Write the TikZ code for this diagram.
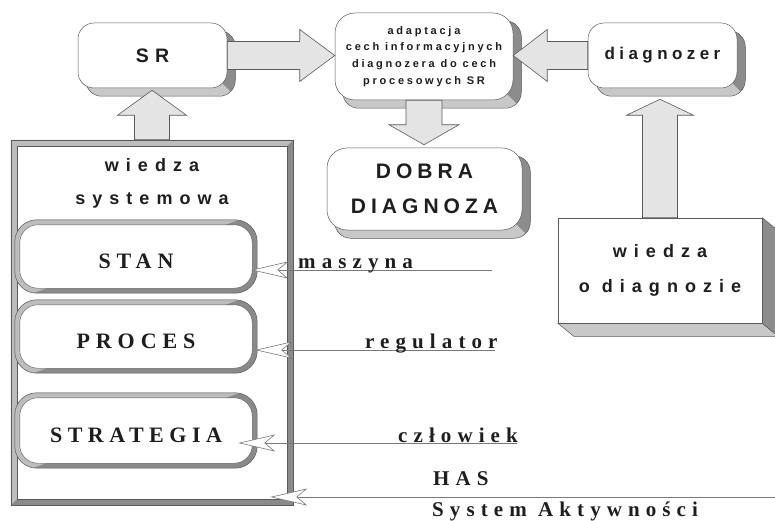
\documentclass[tikz,border=0pt]{standalone}
\usepackage{fontspec}
\setmainfont{Liberation Serif}
\setsansfont{Liberation Sans}
\usetikzlibrary{calc,arrows.meta,backgrounds}

\definecolor{edge}{HTML}{5A5A5A}
\definecolor{ink}{HTML}{1E1E1E}
\definecolor{arrowfill}{HTML}{E4E4E4}
\definecolor{shlight}{HTML}{C8C8C8}
\definecolor{shdark}{HTML}{8C8C8C}
\definecolor{bvlight}{HTML}{BDBDBD}
\definecolor{bvdark}{HTML}{8A8A8A}
\definecolor{linegray}{HTML}{7A7A7A}

% spaced bold sans / serif: size, baselineskip, letter spacing
\newcommand\sansls[3]{\sffamily\bfseries\fontsize{#1}{#2}\selectfont\addfontfeatures{LetterSpace=#3}}
\newcommand\serifls[3]{\rmfamily\bfseries\fontsize{#1}{#2}\selectfont\addfontfeatures{LetterSpace=#3}}

% block arrow: shaft half-width, head half-width, head length, start, tip
\newcommand\blockarrow[5]{%
  \filldraw[fat] let \p1=#4, \p2=#5, \n1={atan2(\y2-\y1,\x2-\x1)} in
    ($(\p1)+(\n1+90:#1pt)$) -- ($(\p2)+(\n1+180:#3pt)+(\n1+90:#1pt)$)
    -- ($(\p2)+(\n1+180:#3pt)+(\n1+90:#2pt)$) -- (\p2)
    -- ($(\p2)+(\n1+180:#3pt)+(\n1-90:#2pt)$) -- ($(\p2)+(\n1+180:#3pt)+(\n1-90:#1pt)$)
    -- ($(\p1)+(\n1-90:#1pt)$) -- cycle;}

% two-tone extruded shadow behind a rounded card
\newcommand\dropshadow[1]{%
  \begin{scope}[on background layer]
    \fill[shlight, rounded corners=16pt] ($(#1.south west)+(8,8)$) rectangle ($(#1.north east)+(8,8)$);
    \begin{scope}
      \clip ($(#1.south east)+(-30,-30)$) -- ($(#1.south east)+(30,30)$)
        -- ($(#1.north east)+(30,-30)$) -- ($(#1.north east)+(-30,-30)$) -- cycle;
      \fill[shdark, rounded corners=16pt] ($(#1.south west)+(8,8)$) rectangle ($(#1.north east)+(8,8)$);
    \end{scope}
    \draw[edge, line width=0.5pt, rounded corners=16pt] ($(#1.south west)+(8,8)$) rectangle ($(#1.north east)+(8,8)$);
  \end{scope}}

% bevelled rounded frame of the inner boxes
\newcommand\bevelround[1]{%
  \begin{scope}[on background layer]
    \fill[bvdark, rounded corners=22pt] (#1.south west) rectangle (#1.north east);
    \begin{scope}
      \clip ($(#1.south west)+(-10,10)$) -- ($(#1.north west)+(-10,-10)$) -- ($(#1.north east)+(10,-10)$) -- cycle;
      \fill[bvlight, rounded corners=22pt] (#1.south west) rectangle (#1.north east);
    \end{scope}
    \fill[white, rounded corners=18pt] ($(#1.south west)+(5,-5)$) rectangle ($(#1.north east)+(-5,5)$);
    \draw[edge, line width=0.5pt, rounded corners=22pt] (#1.south west) rectangle (#1.north east);
    \draw[edge, line width=0.4pt, rounded corners=18pt] ($(#1.south west)+(5,-5)$) rectangle ($(#1.north east)+(-5,5)$);
  \end{scope}}

\tikzset{
  card/.style={rectangle, rounded corners=16pt, draw=edge, line width=0.5pt, fill=white,
    inner sep=0pt, text=ink, align=center},
  bevel/.style={rectangle, inner sep=0pt, minimum width=242pt, text=ink,
    text height=23pt, text depth=0pt},
  fat/.style={fill=arrowfill, draw=edge, line width=0.6pt, line join=miter},
  feed/.style={draw=linegray, line width=0.6pt,
    -{Stealth[length=37pt,width=17pt,inset=10pt,fill=white]}},
  tag/.style={anchor=base west, inner sep=0pt, text=ink, font=\serifls{21}{21}{29}},
}

\begin{document}
\begin{tikzpicture}[x=1pt,y=-1pt]
\useasboundingbox (0,0) rectangle (775,521);

% cards with shadows
\node[card, minimum width=149pt, minimum height=65pt, font=\sansls{19.5}{22}{32}] (sr) at (152.5,55.5) {SR};
\node[card, minimum width=178pt, minimum height=87pt, rounded corners=20pt, font=\sansls{11}{16.7}{25}] (ad) at (424,56.5)
  {adaptacja\\cech informacyjnych\\diagnozera do cech\\procesowych SR};
\node[card, minimum width=195pt, minimum height=82pt, rounded corners=20pt, font=\sansls{21}{35}{24}] (dd) at (424.5,189)
  {DOBRA\\DIAGNOZA};
\node[card, minimum width=149pt, minimum height=65pt, font=\sansls{17}{20}{26}] (dg) at (662.5,55.5) {diagnozer};
\dropshadow{sr}
\dropshadow{ad}
\dropshadow{dd}
\dropshadow{dg}

% knowledge block on the right, extruded
\node[rectangle, draw=edge, line width=0.5pt, fill=white, minimum width=204pt, minimum height=105pt,
  align=center, text=ink, font=\sansls{18}{35}{39}] (wd) at (660,270.5) {wiedza\\o diagnozie};
\begin{scope}[on background layer]
  \filldraw[fill=shlight, draw=edge, line width=0.5pt] (wd.south west) -- ($(wd.south west)+(16,13)$)
    -- ($(wd.south east)+(16,13)$) -- (wd.south east) -- cycle;
  \filldraw[fill=shdark, draw=edge, line width=0.5pt] (wd.north east) -- ($(wd.north east)+(16,13)$)
    -- ($(wd.south east)+(16,13)$) -- (wd.south east) -- cycle;
\end{scope}

% system knowledge frame
\node[rectangle, minimum width=282pt, minimum height=365pt, inner sep=0pt] (ws) at (152,322.5) {};
\begin{scope}[on background layer]
  \fill[bvdark] (ws.south west) rectangle (ws.north east);
  \fill[bvlight] (ws.south west) -- (ws.north west) -- (ws.north east) -- ($(ws.north east)+(-6,6)$)
    -- ($(ws.north west)+(6,6)$) -- ($(ws.south west)+(6,-6)$) -- cycle;
  \fill[white] ($(ws.south west)+(6,-6)$) rectangle ($(ws.north east)+(-6,6)$);
  \draw[edge, line width=0.5pt] (ws.south west) rectangle (ws.north east);
  \draw[edge, line width=0.4pt] ($(ws.south west)+(6,-6)$) rectangle ($(ws.north east)+(-6,6)$);
\end{scope}
\node[align=center, text=ink, font=\sansls{18}{33}{39}] (wstext) at (152,183) {wiedza\\systemowa};

\node[bevel, minimum height=73pt, font=\serifls{22}{22}{27}] (stan) at (136,256.5) {STAN};
\node[bevel, minimum height=73pt, font=\serifls{22}{22}{27}] (proc) at (136,336.5) {PROCES};
\node[bevel, minimum height=75pt, font=\serifls{22}{22}{25}] (strat) at (136,430.5) {STRATEGIA};
\bevelround{stan}
\bevelround{proc}
\bevelround{strat}

% block arrows
\blockarrow{14}{26}{35}{(sr.east)}{(sr.east -| ad.west)}
\blockarrow{14}{26}{34}{(dg.west)}{(dg.west -| ad.east)}
\blockarrow{17.5}{34.5}{25}{(ws.north)}{($(ws.north |- sr.south)+(0,2)$)}
\blockarrow{18}{35}{20}{(ad.south)}{($(ad.south |- dd.north)+(0,-3)$)}
\blockarrow{17.5}{33.5}{16}{(wd.north)}{($(wd.north |- dg.south)+(0,11)$)}

% incoming feeds
\coordinate (mEnd) at (492,270);
\coordinate (rEnd) at (495,350);
\coordinate (cEnd) at (517,443);
\coordinate (sEnd) at (776,497);
\draw[feed] (mEnd) -- ($(mEnd -| stan.east)+(-6,0)$);
\draw[feed] (rEnd) -- ($(rEnd -| proc.east)+(-2,0)$);
\draw[feed] (cEnd) -- ($(cEnd -| strat.east)+(-19,0)$);
\draw[feed] (sEnd) -- ($(sEnd -| ws.east)+(-23,0)$);

% labels
\node[tag] (lmasz) at (298,268) {maszyna};
\node[tag] (lreg) at (365,348) {regulator};
\node[tag] (lczl) at (398,442) {człowiek};
\node[tag] (lhas) at (433,485) {HAS};
\node[tag] (lsys) at (432,516) {System Aktywności};
\end{tikzpicture}
\end{document}
